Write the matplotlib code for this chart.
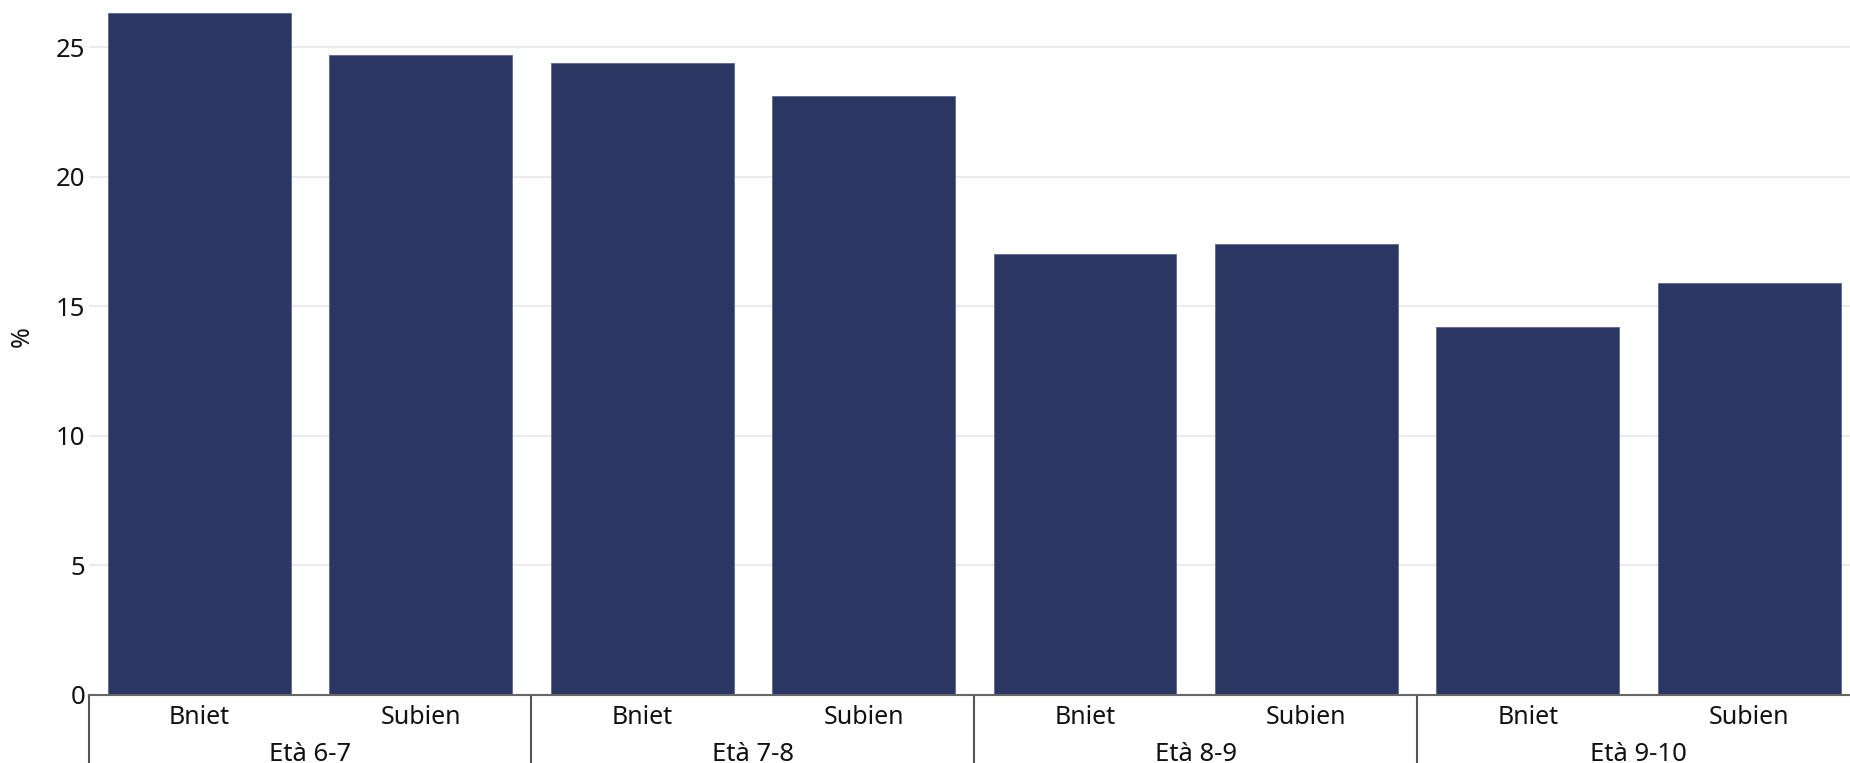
import matplotlib.pyplot as plt
import matplotlib.transforms as mtransforms

plt.rcParams['font.family'] = ['Noto Sans', 'DejaVu Sans']

# dati
gruppi = ['Età 6-7', 'Età 7-8', 'Età 8-9', 'Età 9-10']
sessi = ['Bniet', 'Subien']
valori = [26.3, 24.7, 24.4, 23.1, 17.0, 17.4, 14.2, 15.9]

colore = '#2b3762'

fig = plt.figure(figsize=(18.5, 7.63), dpi=100)
ax = fig.add_axes([88.5 / 1850, 68 / 763, (1860 - 88.5) / 1850, 695 / 763])

x = list(range(len(valori)))
ax.bar(x, valori, width=0.826, color=colore, edgecolor='#5b6796', linewidth=0.6, zorder=2)

ax.set_xlim(-0.5, len(valori) - 0.5)
ax.set_ylim(0, 26.82)
ax.set_yticks([0, 5, 10, 15, 20, 25])
ax.grid(axis='y', color='#ebebeb', linewidth=1.5, zorder=0)
ax.set_axisbelow(True)

for s in ['top', 'right', 'left']:
    ax.spines[s].set_visible(False)
ax.spines['bottom'].set_color('#666666')
ax.spines['bottom'].set_linewidth(1.5)
ax.spines['bottom'].set_zorder(3)

ax.set_xticks(x)
ax.set_xticklabels([sessi[i % 2] for i in x])
ax.tick_params(axis='x', length=0, pad=7.5, labelsize=18, labelcolor='#111111')
ax.tick_params(axis='y', length=0, pad=2.5, labelsize=18.5, labelcolor='#111111')

# etichetta asse y
fig.text(22 / 1850, 1 - 337 / 763, '%', rotation=90, ha='center', va='center',
         fontsize=18, color='#111111')

# etichette dei gruppi e separatori
trans = mtransforms.blended_transform_factory(ax.transData, ax.transAxes)
for i, g in enumerate(gruppi):
    ax.annotate(g, xy=(2 * i + 0.5, 0), xycoords=trans, xytext=(0, -42.5),
                textcoords='offset points', ha='center', va='center', fontsize=18.5,
                color='#111111', annotation_clip=False)
for i in range(len(gruppi) + 1):
    ax.plot([2 * i - 0.5, 2 * i - 0.5], [0, -0.1], transform=trans, color='#555555',
            linewidth=1.5, clip_on=False)

fig.savefig('out.png', dpi=100)
